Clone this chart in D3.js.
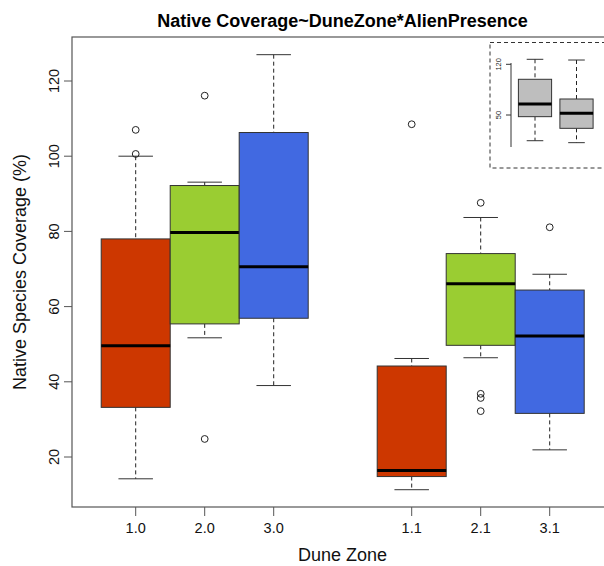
<!DOCTYPE html>
<html>
<head>
<meta charset="utf-8">
<script src="https://cdn.jsdelivr.net/npm/d3@7"></script>
<style>
  body { margin: 0; background: #fff; }
  svg { display: block; font-family: "Liberation Sans", Arial, sans-serif; }
</style>
</head>
<body>
<div id="chart"></div>
<script>
// Box summaries, one entry per box
var zones = ["1.0", "2.0", "3.0", "1.1", "2.1", "3.1"];
var positions = [1, 2, 3, 5, 6, 7];
var boxColors = ["#CD3700", "#9ACD32", "#4169E1", "#CD3700", "#9ACD32", "#4169E1"];
var lowWhisker = [14.2, 51.7, 39.0, 11.3, 46.4, 21.9];
var q1 = [33.2, 55.4, 56.9, 14.8, 49.7, 31.6];
var median = [49.6, 79.7, 70.6, 16.4, 66.1, 52.2];
var q3 = [78.0, 92.2, 106.3, 44.2, 74.1, 64.4];
var highWhisker = [100.0, 93.1, 127.0, 46.2, 83.7, 68.6];
var outliers = [[107.0, 100.6], [116.1, 24.8], [], [108.5], [87.6, 36.8, 35.7, 32.2], [81.1]];
var yTicks = [20, 40, 60, 80, 100, 120];

// Inset: AlienPresence alone
var insetPos = [1, 2];
var insetLow = [14.5, 11.8];
var insetQ1 = [47.7, 31.6];
var insetMed = [65.2, 52.3];
var insetQ3 = [99.3, 72.1];
var insetHigh = [126.9, 125.9];
var insetTicks = [50, 120];

var width = 604, height = 566;
var plot = { left: 72, top: 37, right: 613, bottom: 507 };

var svg = d3.select("#chart").append("svg")
  .attr("width", width)
  .attr("height", height);

svg.append("rect").attr("width", width).attr("height", height).attr("fill", "#fff");

var x = d3.scaleLinear().domain([1, 7]).range([135.7, 549.7]);
var y = d3.scaleLinear().domain([20, 120]).range([457, 81]);
var unit = x(2) - x(1);

var boxes = zones.map(function(z, i) {
  return {
    zone: z, pos: positions[i], color: boxColors[i],
    lo: lowWhisker[i], q1: q1[i], med: median[i], q3: q3[i], hi: highWhisker[i],
    out: outliers[i]
  };
});

// draws a set of R-style boxes with the given scales
var drawBoxes = function(g, data, xs, ys, boxW, fill) {
  var b = g.selectAll("g.box").data(data).enter().append("g").attr("class", "box");

  b.append("line")
    .attr("x1", function(d) { return xs(d.pos); })
    .attr("x2", function(d) { return xs(d.pos); })
    .attr("y1", function(d) { return ys(d.hi); })
    .attr("y2", function(d) { return ys(d.q3); })
    .attr("stroke", "#222").attr("stroke-dasharray", "4,3");
  b.append("line")
    .attr("x1", function(d) { return xs(d.pos); })
    .attr("x2", function(d) { return xs(d.pos); })
    .attr("y1", function(d) { return ys(d.q1); })
    .attr("y2", function(d) { return ys(d.lo); })
    .attr("stroke", "#222").attr("stroke-dasharray", "4,3");

  ["hi", "lo"].forEach(function(k) {
    b.append("line")
      .attr("x1", function(d) { return xs(d.pos) - boxW / 4; })
      .attr("x2", function(d) { return xs(d.pos) + boxW / 4; })
      .attr("y1", function(d) { return ys(d[k]); })
      .attr("y2", function(d) { return ys(d[k]); })
      .attr("stroke", "#333");
  });

  b.append("rect")
    .attr("x", function(d) { return xs(d.pos) - boxW / 2; })
    .attr("y", function(d) { return ys(d.q3); })
    .attr("width", boxW)
    .attr("height", function(d) { return ys(d.q1) - ys(d.q3); })
    .attr("fill", function(d) { return fill || d.color; })
    .attr("stroke", "#333");

  b.append("line")
    .attr("x1", function(d) { return xs(d.pos) - boxW / 2; })
    .attr("x2", function(d) { return xs(d.pos) + boxW / 2; })
    .attr("y1", function(d) { return ys(d.med); })
    .attr("y2", function(d) { return ys(d.med); })
    .attr("stroke", "#000").attr("stroke-width", 3);

  b.selectAll("circle")
    .data(function(d) { return (d.out || []).map(function(v) { return { pos: d.pos, v: v }; }); })
    .enter().append("circle")
    .attr("cx", function(d) { return xs(d.pos); })
    .attr("cy", function(d) { return ys(d.v); })
    .attr("r", 3.4)
    .attr("fill", "none")
    .attr("stroke", "#222");
};

drawBoxes(svg.append("g"), boxes, x, y, unit, null);

// frame
svg.append("rect")
  .attr("x", plot.left).attr("y", plot.top)
  .attr("width", plot.right - plot.left).attr("height", plot.bottom - plot.top)
  .attr("fill", "none").attr("stroke", "#555").attr("stroke-width", 1.2);

// x axis ticks + labels
var xa = svg.append("g");
xa.selectAll("line").data(boxes).enter().append("line")
  .attr("x1", function(d) { return x(d.pos); })
  .attr("x2", function(d) { return x(d.pos); })
  .attr("y1", plot.bottom).attr("y2", plot.bottom + 9)
  .attr("stroke", "#555");
xa.selectAll("text").data(boxes).enter().append("text")
  .attr("x", function(d) { return x(d.pos); })
  .attr("y", 533)
  .attr("text-anchor", "middle")
  .attr("font-size", 14.5)
  .attr("fill", "#111")
  .text(function(d) { return d.zone; });

// y axis ticks + rotated labels
var ya = svg.append("g");
ya.selectAll("line").data(yTicks).enter().append("line")
  .attr("x1", plot.left - 8).attr("x2", plot.left)
  .attr("y1", function(d) { return y(d); })
  .attr("y2", function(d) { return y(d); })
  .attr("stroke", "#555");
ya.selectAll("text").data(yTicks).enter().append("text")
  .attr("transform", function(d) { return "translate(59," + y(d) + ") rotate(-90)"; })
  .attr("text-anchor", "middle")
  .attr("font-size", 14.5)
  .attr("fill", "#111")
  .text(function(d) { return d; });

// titles
svg.append("text")
  .attr("x", (plot.left + plot.right) / 2).attr("y", 26.5)
  .attr("text-anchor", "middle")
  .attr("font-size", 18).attr("font-weight", "bold")
  .text("Native Coverage~DuneZone*AlienPresence");
svg.append("text")
  .attr("x", (plot.left + plot.right) / 2).attr("y", 561)
  .attr("text-anchor", "middle")
  .attr("font-size", 18).attr("fill", "#111")
  .text("Dune Zone");
svg.append("text")
  .attr("transform", "translate(25.5," + (plot.top + plot.bottom) / 2 + ") rotate(-90)")
  .attr("text-anchor", "middle")
  .attr("font-size", 18).attr("fill", "#111")
  .text("Native Species Coverage (%)");

// inset
var inset = svg.append("g");
inset.append("rect")
  .attr("x", 490).attr("y", 42.5).attr("width", 140).attr("height", 125.5)
  .attr("fill", "#fff").attr("stroke", "#333").attr("stroke-dasharray", "4,3");

var ix = d3.scaleLinear().domain([1, 2]).range([535, 576.5]);
var iy = d3.scaleLinear().domain([50, 120]).range([115, 64.3]);
var insetBoxes = insetPos.map(function(p, i) {
  return { pos: p, lo: insetLow[i], q1: insetQ1[i], med: insetMed[i], q3: insetQ3[i], hi: insetHigh[i], out: [] };
});
drawBoxes(inset.append("g"), insetBoxes, ix, iy, (ix(2) - ix(1)) * 0.8, "#BEBEBE");

inset.append("line")
  .attr("x1", 511).attr("x2", 511).attr("y1", 63).attr("y2", 147)
  .attr("stroke", "#333");
inset.selectAll("line.tk").data(insetTicks).enter().append("line")
  .attr("class", "tk")
  .attr("x1", 506).attr("x2", 511)
  .attr("y1", function(d) { return iy(d); })
  .attr("y2", function(d) { return iy(d); })
  .attr("stroke", "#333");
inset.selectAll("text").data(insetTicks).enter().append("text")
  .attr("transform", function(d) { return "translate(501," + iy(d) + ") rotate(-90)"; })
  .attr("text-anchor", "middle")
  .attr("font-size", 7.5)
  .attr("fill", "#222")
  .text(function(d) { return d; });
</script>
</body>
</html>
